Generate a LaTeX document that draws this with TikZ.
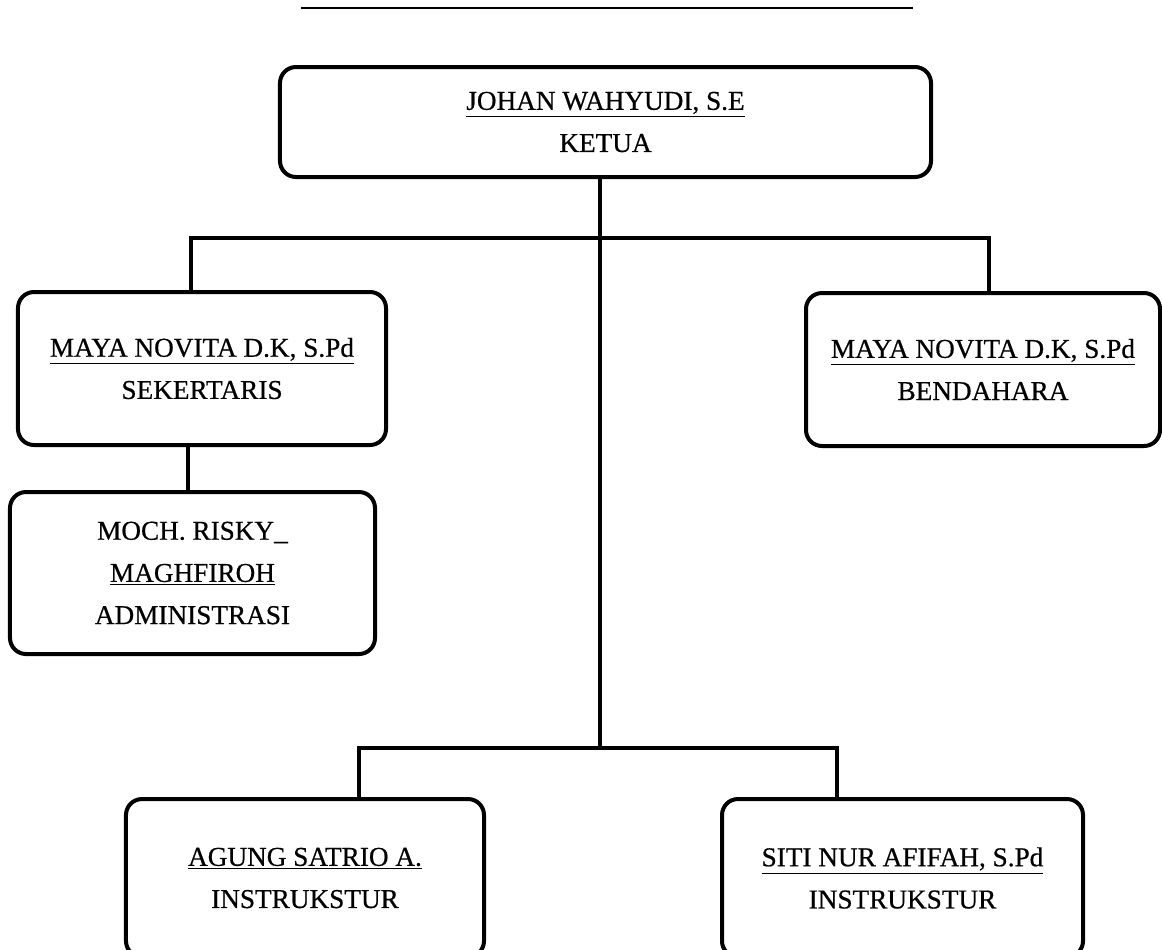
\documentclass[tikz,border=0pt]{standalone}
\usepackage{fontspec}
\setmainfont{Liberation Serif}
\newfontfamily\orgfont{Liberation Serif}[FakeBold=0.6]
\usetikzlibrary{positioning}

\begin{document}
\begin{tikzpicture}[x=0.2mm,y=-0.2mm,
                    orgbox/.style={draw,line width=0.8mm,rounded corners=3.2mm,align=center,
                                   font=\orgfont\fontsize{15.5}{24}\selectfont},
                    link/.style={line width=0.65mm}]
\useasboundingbox (0,0) rectangle (1162,949);

\coordinate (ruleL) at (301,8);
\coordinate (ruleR) at (913,8);
\draw[line width=0.5mm] (ruleL) -- (ruleR);

\node[orgbox,minimum width=130.2mm,minimum height=22mm] (ketua) at (605.5,122)
  {\underline{JOHAN WAHYUDI, S.E}\\KETUA};
\node[orgbox,minimum width=73.6mm,minimum height=30.6mm] (sekretaris) at (202,368.5)
  {\underline{MAYA NOVITA D.K, S.Pd}\\SEKERTARIS};
\node[orgbox,minimum width=73mm,minimum height=32.4mm] (admin) at (192.5,573)
  {MOCH. RISKY\_\\\underline{MAGHFIROH}\\ADMINISTRASI};
\node[orgbox,minimum width=70.8mm,minimum height=30.6mm] (bendahara) at (983,369.5)
  {\underline{MAYA NOVITA D.K, S.Pd}\\BENDAHARA};
\node[orgbox,minimum width=71.6mm,minimum height=31.6mm] (agung) at (305,878)
  {\underline{AGUNG SATRIO A.}\\INSTRUKSTUR};
\node[orgbox,minimum width=72.2mm,minimum height=31.6mm] (siti) at (902.5,878)
  {\underline{SITI NUR AFIFAH, S.Pd}\\INSTRUKSTUR};

% bus lines
\coordinate (busA) at (600,238);
\coordinate (busB) at (600,748);
\coordinate (dropS) at (191,238);
\coordinate (dropB) at (989,238);
\coordinate (dropL) at (359,748);
\coordinate (dropR) at (837,748);
\coordinate (linkA) at (188,0);

\draw[link] (ketua.south -| busA) -- (busB);
\draw[link] (dropS |- sekretaris.north) -- (dropS) -- (dropB) -- (dropB |- bendahara.north);
\draw[link] (sekretaris.south -| linkA) -- (admin.north -| linkA);
\draw[link] (dropL |- agung.north) -- (dropL) -- (dropR) -- (dropR |- siti.north);

\end{tikzpicture}
\end{document}
